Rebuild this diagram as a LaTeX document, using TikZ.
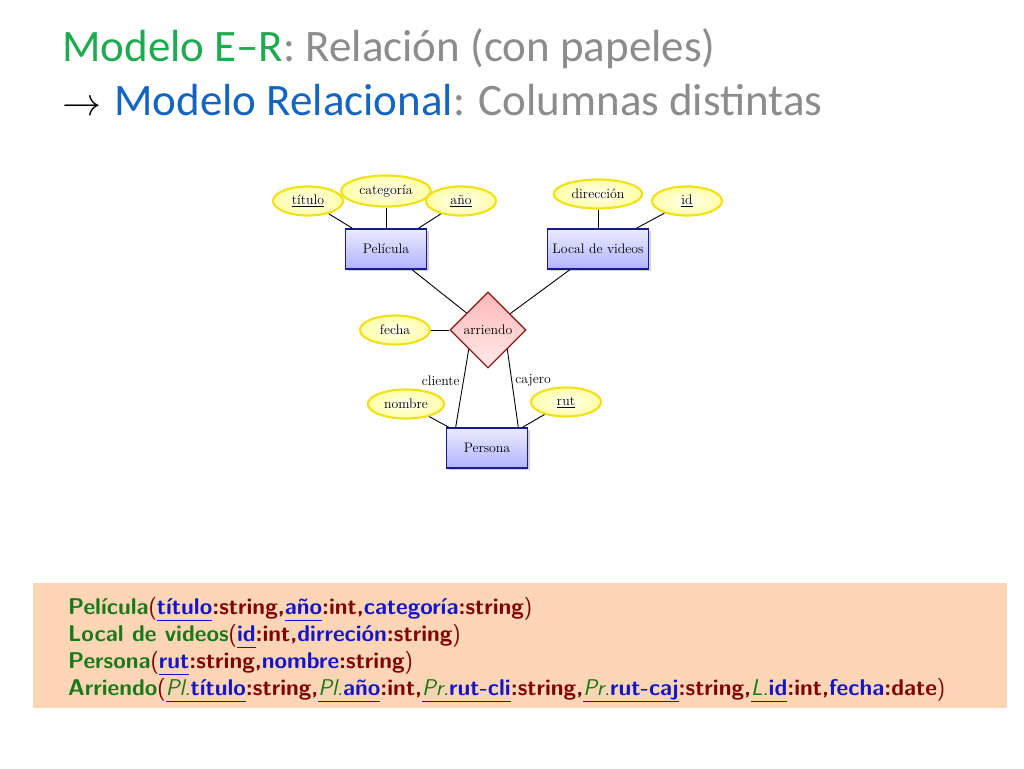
\RequirePackage{fix-cm}
\documentclass[tikz,border=0pt]{standalone}
\usepackage{fontspec}
\usepackage{tikz}
\usetikzlibrary{positioning}
\usetikzlibrary{shapes.geometric}
\usetikzlibrary{shadows}

\newfontfamily\titlefont{Carlito}
\newcommand{\diagramfont}{\fontsize{13.8}{16}\selectfont}
\newcommand{\schemafont}{\sffamily\bfseries\fontsize{22.8}{27}\selectfont}

\definecolor{titlegreen}{RGB}{30,170,80}
\definecolor{titlegray}{RGB}{140,140,140}
\definecolor{titleblue}{RGB}{21,101,192}
\definecolor{entityblue}{RGB}{25,25,150}
\definecolor{attryellow}{RGB}{240,225,30}
\definecolor{relborder}{RGB}{140,20,20}
\definecolor{relgreen}{RGB}{25,120,25}
\definecolor{relred}{RGB}{128,0,0}
\definecolor{relblue}{RGB}{20,20,200}
\definecolor{boxpeach}{RGB}{252,213,180}

% keys in the relational schema
\newcommand{\pk}[1]{\textcolor{relblue}{\underline{\vphantom{p}#1}}}
\newcommand{\att}[1]{\textcolor{relblue}{#1}}
\newcommand{\tab}[1]{\textcolor{relgreen}{#1}}
\newcommand{\pre}[1]{\textcolor{relgreen}{\mdseries\itshape #1}}
\newcommand{\op}{{\mdseries(}}
\newcommand{\cp}{{\mdseries)}}

\begin{document}
\begin{tikzpicture}[x=1pt,y=-1pt,
    entity/.style={draw=entityblue,line width=1.6pt,rectangle,minimum width=81pt,minimum height=40pt,
        inner xsep=5pt,top color=blue!8,bottom color=blue!30,drop shadow={opacity=0.35},font=\diagramfont},
    attribute/.style={draw=attryellow,line width=2.2pt,ellipse,minimum width=70pt,minimum height=29pt,
        inner xsep=5pt,inner ysep=2pt,inner color=yellow!5,outer color=yellow!35,font=\diagramfont},
    relation/.style={draw=relborder,line width=1.2pt,diamond,minimum size=76pt,inner sep=1pt,
        top color=red!28,bottom color=red!8,font=\diagramfont},
    link/.style={line width=0.9pt},
    role/.style={font=\diagramfont},
    schema/.style={anchor=base west,inner sep=0pt,font=\schemafont,text=relred},
    heading/.style={anchor=base west,inner sep=0pt,font=\titlefont\fontsize{45}{54}\selectfont}]

    \fill[white] (0,0) rectangle (1024,768);
    \useasboundingbox (0,0) rectangle (1024,768);

    % title
    \node (titleone) [heading] at (62,62) {\textcolor{titlegreen}{Modelo E–R}\textcolor{titlegray}{: Relación (con papeles)}};
    \node (titletwo) [heading] at (62,115) {{\fontsize{39}{40}\selectfont$\rightarrow$}\hspace{13pt}\textcolor{titleblue}{Modelo Relacional}\textcolor{titlegray}{: Columnas distintas}};

    % entities and relation
    \node (pelicula) [entity] at (386,249) {Película};
    \node (local) [entity] at (598,249) {Local de videos};
    \node (persona) [entity] at (487,448) {Persona};
    \node (arriendo) [relation] at (488,330) {arriendo};

    % attributes
    \node (titulo) [attribute] at (308,201) {\underline{título}};
    \node (categoria) [attribute,minimum height=31pt] at (386,191) {categoría};
    \node (anio) [attribute] at (461,201) {\underline{año}};
    \node (direccion) [attribute] at (598,194) {dirección};
    \node (id) [attribute] at (687,201) {\underline{id}};
    \node (fecha) [attribute] at (395,330) {fecha};
    \node (nombre) [attribute] at (406,404) {nombre};
    \node (rut) [attribute] at (566,402) {\underline{rut}};

    \path [link] (titulo) edge (pelicula);
    \path [link] (categoria) edge (pelicula);
    \path [link] (anio) edge (pelicula);
    \path [link] (direccion) edge (local);
    \path [link] (id) edge (local);
    \path [link] (pelicula) edge (arriendo);
    \path [link] (local) edge (arriendo);
    \path [link] (fecha) edge (arriendo);
    \path [link] (nombre) edge (persona);
    \path [link] (rut) edge (persona);
    \path [link] (arriendo.south west) edge node[role,left,pos=0.4] {cliente} ([xshift=10pt]persona.north west);
    \path [link] (arriendo.south east) edge node[role,right,pos=0.4] {cajero} ([xshift=-10pt]persona.north east);

    % relational schema
    \fill[boxpeach] (33,583) rectangle (1007,708);
    \node (relpelicula) [schema] at (68,614) {\tab{Película}\op\pk{título}:string,\pk{año}:int,\att{categoría}:string\cp};
    \node (rellocal) [schema] at (68,641) {\tab{Local de videos}\op\pk{id}:int,\att{dirreción}:string\cp};
    \node (relpersona) [schema] at (68,668) {\tab{Persona}\op\pk{rut}:string,\att{nombre}:string\cp};
    \node (relarriendo) [schema] at (68,695) {\tab{Arriendo}\op\pk{\pre{Pl.}título}:string,\pk{\pre{Pl.}año}:int,\pk{\pre{Pr.}rut-cli}:string,\pk{\pre{Pr.}rut-caj}:string,\pk{\pre{L.}id}:int,\att{fecha}:date\cp};
\end{tikzpicture}
\end{document}
